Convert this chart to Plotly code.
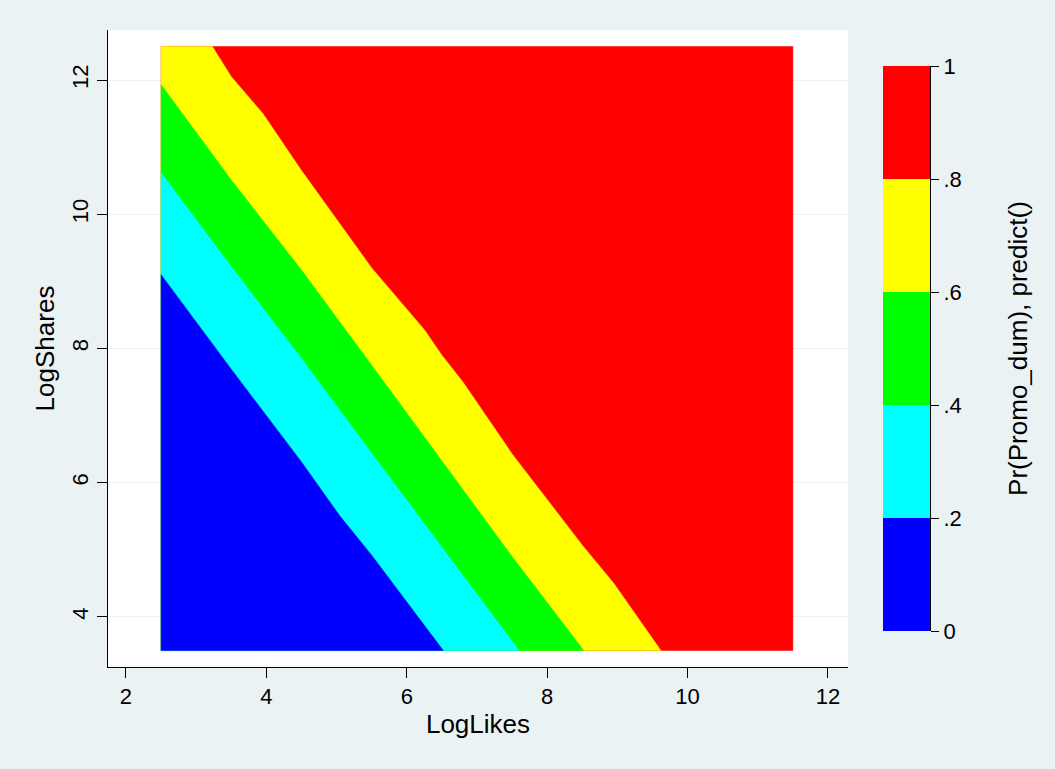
import plotly.graph_objects as go

# Grid extent of the contour surface
x_min, x_max = 2.5, 11.5
y_min, y_max = 3.5, 12.5

# Contour boundaries (LogLikes, LogShares)
b02_x = [2.5, 3.5, 4.5, 5.05, 5.5, 6.52]
b02_y = [9.10, 7.69, 6.31, 5.5, 4.92, 3.5]
b04_x = [2.5, 3.5, 4.5, 5.5, 7.6]
b04_y = [10.62, 9.22, 7.85, 6.44, 3.5]
b06_x = [2.5, 3.5, 4.5, 5.5, 7.5, 8.52]
b06_y = [11.93, 10.51, 9.17, 7.75, 4.9, 3.5]
b08_x = [3.23, 3.5, 3.95, 4.5, 5.5, 6.25, 6.5, 6.8, 7.5, 8.5, 8.95, 9.62]
b08_y = [12.5, 12.05, 11.5, 10.65, 9.2, 8.28, 7.9, 7.5, 6.43, 5.07, 4.5, 3.5]

levels = [0, 0.2, 0.4, 0.6, 0.8, 1.0]
level_labels = ["0", ".2", ".4", ".6", ".8", "1"]
band_colors = ["#0000FF", "#00FFFF", "#00FF00", "#FFFF00", "#FF0000"]

x_ticks = [2, 4, 6, 8, 10, 12]
y_ticks = [4, 6, 8, 10, 12]

BG = "#EAF2F3"
FONT = "Liberation Sans"

fig = go.Figure()

def add_poly(xs, ys, color):
    fig.add_trace(go.Scatter(x=xs, y=ys, mode="lines", fill="toself",
                             fillcolor=color, line=dict(color=color, width=0.5),
                             hoverinfo="skip", showlegend=False,
                             xaxis="x", yaxis="y"))

# red base rectangle (top band)
add_poly([x_min, x_max, x_max, x_min, x_min],
         [y_min, y_min, y_max, y_max, y_min], band_colors[4])
# yellow: below .8 boundary
add_poly([x_min, x_min] + b08_x + [x_min],
         [y_min, y_max] + b08_y + [y_min], band_colors[3])
# green: below .6 boundary
add_poly([x_min] + b06_x + [x_min], [y_min] + b06_y + [y_min], band_colors[2])
# cyan: below .4 boundary
add_poly([x_min] + b04_x + [x_min], [y_min] + b04_y + [y_min], band_colors[1])
# blue: below .2 boundary
add_poly([x_min] + b02_x + [x_min], [y_min] + b02_y + [y_min], band_colors[0])

# color legend bar
for i in range(5):
    fig.add_trace(go.Bar(x=[0], y=[levels[i + 1] - levels[i]], base=[levels[i]],
                         marker=dict(color=band_colors[i], line=dict(width=0)),
                         width=1, xaxis="x2", yaxis="y2",
                         hoverinfo="skip", showlegend=False))

W, H = 1055, 769
fig.update_layout(
    width=W, height=H, autosize=False,
    margin=dict(l=0, r=0, t=0, b=0, pad=0),
    paper_bgcolor=BG, plot_bgcolor="white",
    font=dict(family=FONT, size=22, color="black"),
    barmode="overlay", bargap=0,
    xaxis=dict(domain=[108 / W, 848 / W], range=[1.744, 12.285],
               tickvals=x_ticks, ticks="outside", ticklen=10, tickwidth=1,
               tickcolor="black", showline=True, linecolor="black", linewidth=1,
               showgrid=False, zeroline=False, automargin=False,
               title=dict(text="LogLikes", standoff=6),
               anchor="y"),
    yaxis=dict(domain=[1 - 667 / H, 1 - 30 / H], range=[3.255, 12.745],
               tickvals=y_ticks, ticks="outside", ticklen=10, tickwidth=1,
               tickcolor="black", showline=True, linecolor="black", linewidth=1,
               showgrid=True, gridcolor=BG, gridwidth=1, zeroline=False,
               tickangle=-90, automargin=False,
               title=dict(text="LogShares", standoff=6),
               anchor="x"),
    xaxis2=dict(domain=[883 / W, 930 / W], range=[-0.5, 0.5], visible=False,
                anchor="y2"),
    yaxis2=dict(domain=[1 - 631 / H, 1 - 66 / H], range=[0, 1],
                tickvals=levels, ticktext=level_labels, side="right",
                ticks="outside", ticklen=8, tickwidth=1, tickcolor="black",
                showline=True, linecolor="black", linewidth=1,
                showgrid=False, zeroline=False, anchor="x2", automargin=False,
                title=dict(text="Pr(Promo_dum), predict()", standoff=48)),
)

fig.write_html("out.html", config={"displayModeBar": False},
               post_script="document.body.style.margin='0';document.body.style.overflow='hidden';")
